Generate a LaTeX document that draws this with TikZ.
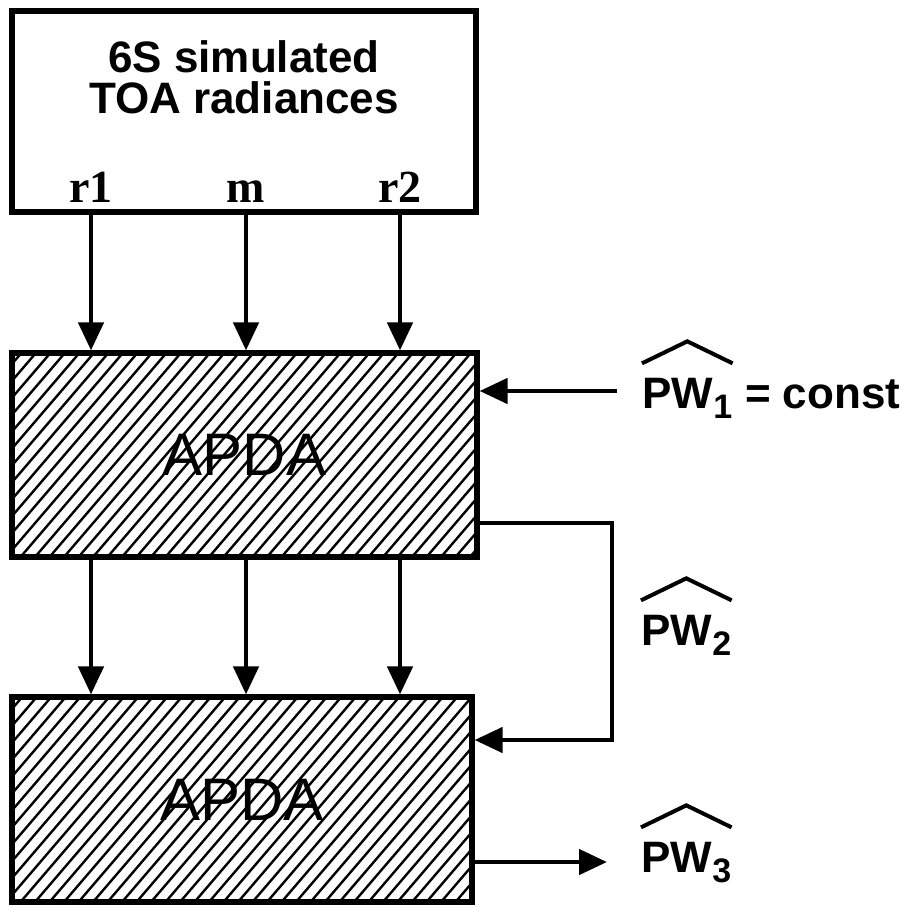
\documentclass[tikz,border=0pt]{standalone}
\usepackage{fontspec}
\setmainfont{Liberation Sans}
\newfontfamily\serifbf{Liberation Serif}
\usetikzlibrary{arrows.meta}
\newcommand\pwsub[1]{\raisebox{-5pt}{\fontsize{17}{17}\selectfont #1}}

\begin{document}
\begin{tikzpicture}[
    x=0.5pt, y=-0.5pt,
    block/.style={draw=black, line width=2.6pt, inner sep=0pt},
    hatched/.style={path picture={
        \foreach \k in {0,...,46}
          \draw[line width=1.2pt] ([xshift=\k*\hsp-90pt]path picture bounding box.south west) -- ++(90pt,105pt);
      }},
    flow/.style={draw=black, line width=2.3pt, -{Triangle[length=14pt, width=12.5pt]}},
    ttl/.style={font=\fontsize{22}{20.5}\selectfont\bfseries, align=center, inner sep=0pt},
    tag/.style={font=\fontsize{23}{23}\selectfont\serifbf\bfseries, inner sep=0pt},
    apda/.style={font=\fontsize{30}{30}\selectfont},
    pwlbl/.style={font=\fontsize{22}{22}\selectfont\bfseries, inner sep=0pt},
    hatline/.style={draw=black, line width=2pt},
  ]

  \def\hsp{7.25pt}
  \useasboundingbox (0,0) rectangle (913,904);

  % ---------- source box
  \node[block, minimum width=232pt, minimum height=100.5pt] (sim) at (244,111.5) {};
  \node[ttl, anchor=north] (simtxt) at (244,40) {6S simulated\\TOA radiances};
  \node[tag, anchor=base] (r1) at (91,202) {r1};
  \node[tag, anchor=base] (m) at (246,202) {m};
  \node[tag, anchor=base] (r2) at (400,202) {r2};

  % ---------- two APDA stages
  \node[block, hatched, apda, minimum width=232.5pt, minimum height=102pt] (apdaA) at (244.5,455) {APDA};
  \node[block, hatched, apda, minimum width=230pt, minimum height=102.5pt] (apdaB) at (242,799.5) {APDA};

  \foreach \t in {r1,m,r2} {
    \draw[flow] (\t |- sim.south) -- (\t |- apdaA.north);
    \draw[flow] (\t |- apdaA.south) -- (\t |- apdaB.north);
  }

  % ---------- water vapour estimates
  \node[pwlbl, anchor=base west] (pw1) at (642,408) {PW\pwsub{1}};
  \node[pwlbl, anchor=base west] (const) at ([xshift=6pt]pw1.base east) {= const};
  \node[pwlbl, anchor=base west] (pw2) at (641,645) {PW\pwsub{2}};
  \node[pwlbl, anchor=base west] (pw3) at (641,872) {PW\pwsub{3}};
  \foreach \p in {pw1,pw2,pw3}
    \draw[hatline] ([yshift=7pt]\p.north west) -- ([yshift=18pt]\p.north) -- ([yshift=7pt]\p.north east);

  \coordinate (pw1in) at (617,391);
  \draw[flow] (pw1in) -- (apdaA.east |- pw1in);

  \coordinate (fbtop) at (612,523);
  \coordinate (fbbot) at (612,740);
  \draw[flow] (apdaA.east |- fbtop) -- (fbtop) -- (fbbot) -- (apdaB.east |- fbbot);

  \coordinate (pw3out) at (607,862);
  \draw[flow] (apdaB.east |- pw3out) -- (pw3out);

\end{tikzpicture}
\end{document}
